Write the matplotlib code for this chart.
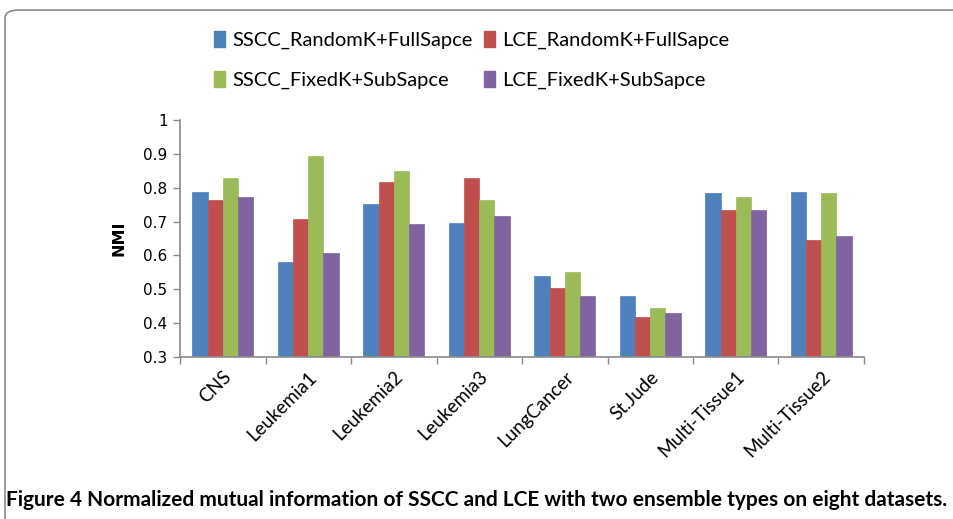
import matplotlib.pyplot as plt
from matplotlib.patches import FancyBboxPatch, Patch
import numpy as np

datasets = ['CNS', 'Leukemia1', 'Leukemia2', 'Leukemia3', 'LungCancer',
            'St.Jude', 'Multi-Tissue1', 'Multi-Tissue2']
series_names = ['SSCC_RandomK+FullSapce', 'LCE_RandomK+FullSapce',
                'SSCC_FixedK+SubSapce', 'LCE_FixedK+SubSapce']

sscc_random_full = [0.787, 0.580, 0.753, 0.697, 0.540, 0.479, 0.783, 0.788]
lce_random_full = [0.763, 0.707, 0.818, 0.829, 0.504, 0.419, 0.733, 0.647]
sscc_fixed_sub = [0.829, 0.894, 0.848, 0.763, 0.550, 0.444, 0.773, 0.783]
lce_fixed_sub = [0.773, 0.606, 0.692, 0.716, 0.479, 0.429, 0.733, 0.657]

colors = ['#4f81bd', '#c0504d', '#9bbb59', '#8064a2']

fig = plt.figure(figsize=(9.54, 5.19), dpi=100)

# rounded frame around the figure (runs off right and bottom edges)
frame = FancyBboxPatch((5 / 954, -0.05), 1.2, 1 - 10 / 519 + 0.05,
                       boxstyle='round,pad=0,rounding_size=0.015',
                       transform=fig.transFigure, fill=False,
                       ec='#8a8a8a', lw=1.2, clip_on=False)
fig.patches.append(frame)

ax = fig.add_axes([180 / 954, 1 - 357 / 519, (864 - 180) / 954, (357 - 120) / 519])

x = np.arange(len(datasets))
w = 0.178
all_series = [sscc_random_full, lce_random_full, sscc_fixed_sub, lce_fixed_sub]
for i, (vals, c) in enumerate(zip(all_series, colors)):
    ax.bar(x + (i - 1.5) * w, vals, width=w, color=c, edgecolor=c, lw=0.5,
           bottom=0, zorder=2)

ax.set_ylim(0.3, 1.0)
ax.set_xlim(-0.5, len(datasets) - 0.5)
ax.set_yticks(np.arange(0.3, 1.01, 0.1))
ax.set_yticklabels(['0.3', '0.4', '0.5', '0.6', '0.7', '0.8', '0.9', '1'],
                   fontsize=11, family='DejaVu Sans')

ax.set_xticks(np.arange(-0.5, len(datasets), 1.0))
ax.set_xticklabels([])
ax.set_xticks(x, minor=True)
ax.set_xticklabels(datasets, minor=True, rotation=45, ha='right',
                   rotation_mode='anchor', fontsize=13.5, family='Lato')
ax.tick_params(axis='x', which='minor', length=0, pad=8)
ax.tick_params(axis='x', which='major', length=5, color='#8a8a8a', width=1)
ax.tick_params(axis='y', length=5, color='#8a8a8a', width=1, pad=4)

for side in ('top', 'right'):
    ax.spines[side].set_visible(False)
for side in ('left', 'bottom'):
    ax.spines[side].set_color('#8a8a8a')
    ax.spines[side].set_linewidth(1.2)

ax.set_ylabel('NMI', fontsize=11.5, fontweight='bold', family='DejaVu Sans',
              labelpad=12)

handles = [Patch(color=c) for c in colors]
order = [0, 2, 1, 3]
fig.legend([handles[i] for i in order], [series_names[i] for i in order],
           ncol=2, loc='upper left', bbox_to_anchor=(196 / 954, 1 - 13 / 519),
           frameon=False, handlelength=0.55, handleheight=0.85,
           handletextpad=0.35, labelspacing=1.05, columnspacing=0.55,
           prop={'family': 'Lato', 'size': 14.5})

fig.text(0.5, 1 - 500 / 519,
         'Figure 4 Normalized mutual information of SSCC and LCE with two ensemble types on eight datasets.',
         ha='center', va='center', fontsize=15, fontweight='bold',
         family='Lato')

fig.savefig('out.png', dpi=100)
